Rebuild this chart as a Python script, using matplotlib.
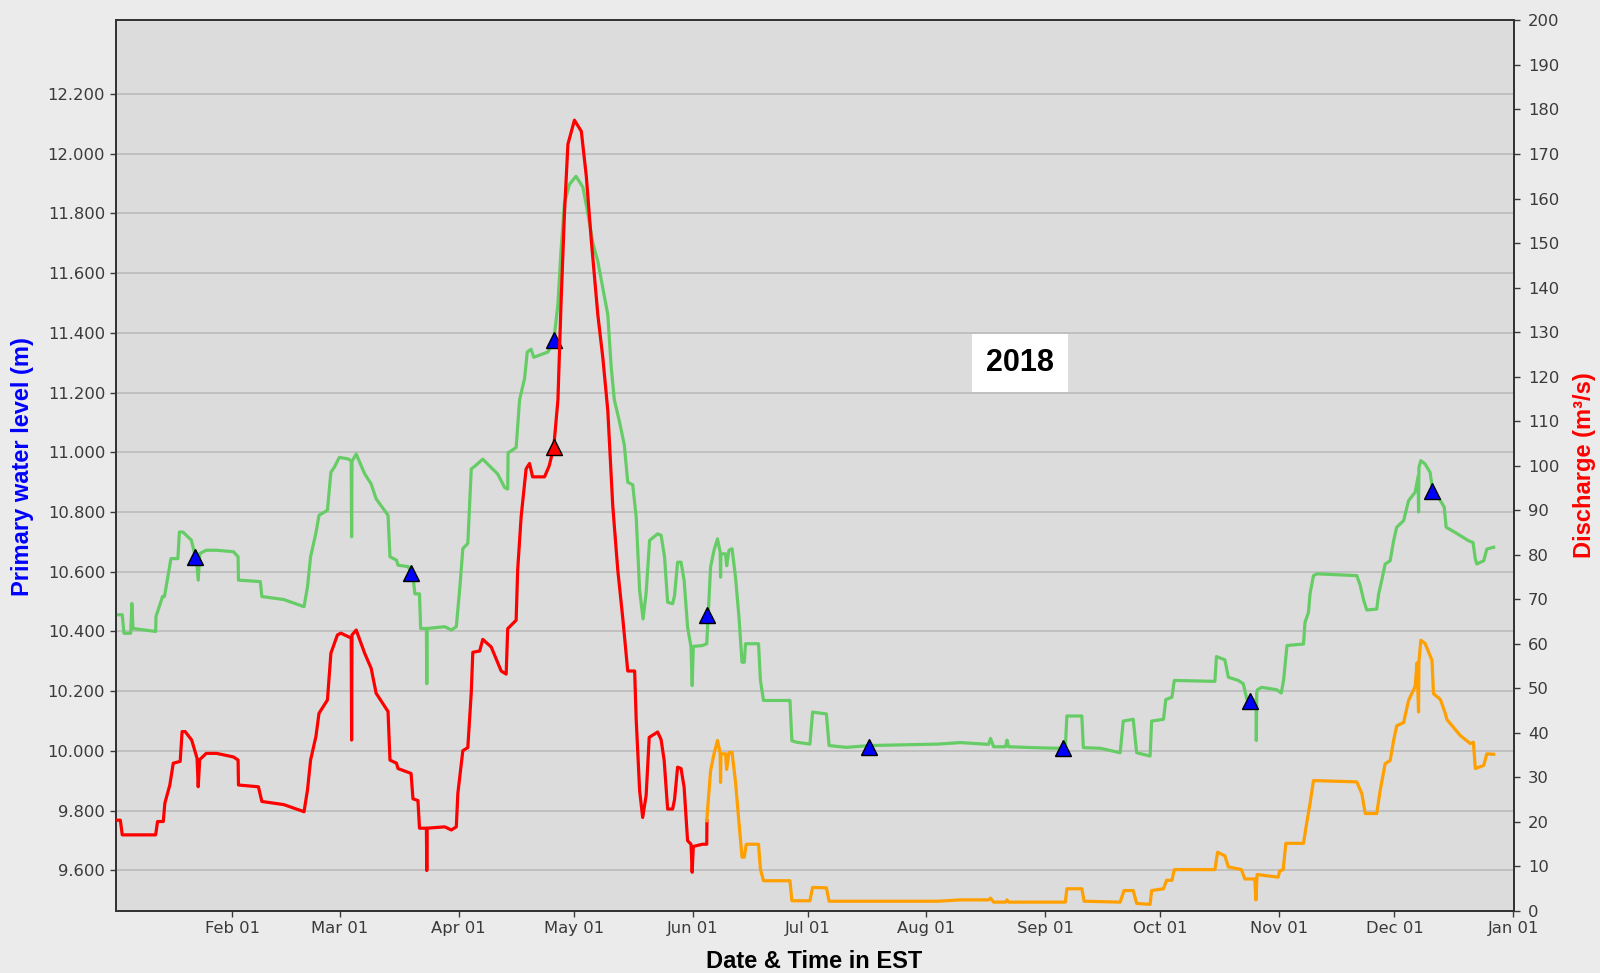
import numpy as np
import pandas as pd
import matplotlib
matplotlib.use('Agg')
import matplotlib.pyplot as plt
import matplotlib.dates as mdates

START = pd.Timestamp('2018-01-01')

# water level (m), days since 2018-01-01
level_days = [0.75, 2.3, 2.75, 3.6, 4.5, 4.8, 5.1, 11.0, 11.1, 12.8, 13.3, 15.0, 16.8, 17.2, 18.1,
              20.3, 21.2, 21.6, 22.1, 22.5, 24.2, 26.9, 31.3, 32.5, 32.6, 38.3, 38.7, 44.4, 49.7,
              50.6, 51.4, 52.8, 53.6, 55.8, 56.7, 57.6, 58.9, 61.1, 62.0, 62.1, 62.2, 63.3, 65.5,
              67.2, 68.5, 71.6, 72.1, 73.8, 74.2, 76.9, 78.2, 78.6, 79.8, 80.1, 81.6, 81.7, 81.8,
              86.4, 88.1, 89.4, 90.3, 91.1, 92.4, 93.3, 94.2, 96.3, 100.2, 102.0, 102.8, 102.9,
              105.0, 105.9, 107.2, 107.9, 108.9, 109.6, 113.3, 114.8, 115.9, 116.7, 117.6, 118.9,
              120.6, 122.4, 123.7, 125.0, 126.3, 127.6, 128.9, 129.8, 130.6, 131.9, 133.2, 134.1,
              135.4, 136.3, 137.2, 138.1, 138.9, 139.8, 141.9, 142.8, 143.7, 144.5, 145.8, 146.3,
              147.1, 148.0, 148.8, 149.7, 150.6, 150.9, 151.2, 153.6, 154.7, 155.1, 155.7, 156.6,
              157.5, 158.2, 158.3, 158.4, 159.6, 159.9, 160.5, 161.3, 162.2, 163.1, 163.9, 164.5,
              164.8, 168.2, 168.7, 169.5, 176.4, 176.9, 178.2, 181.6, 182.3, 185.9, 186.6, 191.1,
              197.1, 215.2, 220.8, 228.2, 228.7, 229.5, 232.6, 233.0, 233.4, 239.9, 246.0, 248.2,
              248.6, 252.5, 252.9, 257.3, 262.5, 263.3, 265.9, 266.8, 269.4, 270.3, 270.7, 273.8,
              274.4, 276.0, 276.6, 287.2, 287.6, 289.8, 290.7, 293.3, 294.6, 295.5, 296.4, 297.95,
              298.0, 298.1, 298.3, 299.4, 303.3, 304.5, 305.1, 306.0, 310.3, 310.7, 311.6, 312.0,
              312.9, 313.8, 324.2, 325.1, 326.0, 326.8, 329.4, 329.9, 330.7, 331.6, 332.9, 333.8,
              334.6, 336.4, 337.7, 339.4, 340.2, 340.3, 340.4, 340.9, 342.0, 343.3, 344.0, 346.0,
              347.0, 347.5, 349.0, 351.2, 353.3, 354.5, 355.1, 355.5, 357.3, 358.1, 359.9]
level_m = [10.456, 10.456, 10.394, 10.394, 10.394, 10.494, 10.41, 10.40, 10.45, 10.517, 10.517,
           10.644, 10.644, 10.733, 10.733, 10.706, 10.66, 10.65, 10.572, 10.661, 10.672, 10.672,
           10.667, 10.65, 10.572, 10.567, 10.517, 10.507, 10.483, 10.55, 10.65, 10.73, 10.789,
           10.806, 10.933, 10.95, 10.983, 10.978, 10.972, 10.717, 10.97, 10.994, 10.928, 10.894,
           10.844, 10.789, 10.65, 10.639, 10.622, 10.617, 10.572, 10.526, 10.526, 10.41, 10.41,
           10.225, 10.41, 10.416, 10.405, 10.416, 10.544, 10.677, 10.695, 10.944, 10.953, 10.977,
           10.927, 10.882, 10.877, 10.998, 11.016, 11.176, 11.247, 11.336, 11.345, 11.318, 11.336,
           11.372, 11.496, 11.675, 11.835, 11.897, 11.924, 11.888, 11.8, 11.701, 11.639, 11.55,
           11.461, 11.283, 11.176, 11.105, 11.025, 10.9, 10.891, 10.784, 10.537, 10.442, 10.53,
           10.705, 10.727, 10.722, 10.649, 10.498, 10.493, 10.52, 10.632, 10.632, 10.571, 10.415,
           10.348, 10.219, 10.35, 10.353, 10.359, 10.459, 10.616, 10.672, 10.71, 10.666, 10.582,
           10.66, 10.66, 10.62, 10.672, 10.677, 10.582, 10.448, 10.297, 10.297, 10.359, 10.359,
           10.236, 10.169, 10.169, 10.034, 10.029, 10.023, 10.13, 10.124, 10.018, 10.012, 10.018,
           10.023, 10.028, 10.022, 10.042, 10.014, 10.014, 10.036, 10.014, 10.011, 10.009, 10.011,
           10.117, 10.117, 10.011, 10.009, 9.994, 10.1, 10.106, 9.994, 9.986, 9.983, 10.1, 10.106,
           10.172, 10.18, 10.236, 10.233, 10.316, 10.305, 10.247, 10.236, 10.225, 10.175, 10.17,
           10.17, 10.035, 10.195, 10.205, 10.213, 10.205, 10.194, 10.236, 10.353, 10.358, 10.431,
           10.464, 10.526, 10.587, 10.593, 10.587, 10.554, 10.504, 10.472, 10.475, 10.526, 10.571,
           10.626, 10.637, 10.704, 10.749, 10.771, 10.838, 10.866, 10.92, 10.8, 10.95, 10.972,
           10.961, 10.933, 10.872, 10.838, 10.816, 10.749, 10.738, 10.721, 10.704, 10.698, 10.643,
           10.626, 10.637, 10.676, 10.682]

# discharge (m3/s), first part (red) and later part (orange)
red_days = [0.75, 1.8, 2.3, 11.0, 11.5, 13.0, 13.4, 14.7, 15.6, 17.4, 17.9, 18.7, 20.4, 21.8, 22.1,
            22.5, 24.2, 26.9, 31.3, 32.5, 32.6, 37.8, 38.7, 44.4, 49.7, 50.6, 51.4, 52.8, 53.6,
            55.8, 56.7, 58.4, 59.3, 62.0, 62.1, 62.2, 63.3, 65.5, 67.2, 68.5, 71.6, 72.1, 73.8,
            74.2, 77.6, 78.1, 79.4, 79.8, 81.6, 81.7, 81.8, 86.4, 88.1, 89.4, 89.8, 91.1, 92.4,
            93.3, 93.7, 95.5, 96.3, 98.5, 101.1, 102.4, 102.8, 105.0, 105.4, 106.3, 107.6, 108.5,
            109.3, 112.4, 113.6, 114.8, 115.9, 116.7, 117.6, 118.5, 120.2, 122.0, 123.3, 124.6,
            126.3, 127.6, 128.9, 130.2, 131.5, 132.8, 134.1, 135.9, 136.3, 137.2, 138.0, 138.9,
            139.7, 141.9, 142.8, 143.6, 144.5, 145.8, 146.3, 147.1, 148.0, 148.8, 149.7, 150.6,
            150.9, 151.2, 153.6, 154.7, 154.75]
red_q = [20.4, 20.4, 17.1, 17.1, 20.1, 20.1, 24.2, 28.3, 33.2, 33.6, 40.3, 40.3, 38.4, 34.3, 27.9,
         34.0, 35.4, 35.4, 34.6, 33.9, 28.3, 27.9, 24.6, 23.9, 22.3, 27.2, 33.9, 39.2, 44.4, 47.4,
         57.9, 62.0, 62.4, 61.3, 38.4, 62.0, 63.1, 57.9, 54.5, 48.9, 44.8, 33.9, 33.2, 32.0, 30.9,
         25.2, 24.8, 18.6, 18.6, 9.1, 18.6, 18.9, 18.2, 18.9, 26.4, 36.0, 36.7, 49.1, 58.1, 58.4,
         61.0, 59.3, 53.9, 53.2, 63.4, 65.3, 76.6, 88.5, 99.3, 100.5, 97.5, 97.5, 99.9, 104.1,
         114.8, 136.3, 156.7, 172.2, 177.6, 175.1, 165.0, 150.6, 133.9, 124.3, 112.4, 90.9, 76.6,
         65.8, 53.9, 53.9, 43.1, 27.0, 21.0, 26.0, 39.0, 40.2, 38.5, 33.8, 22.9, 22.9, 25.0, 32.3,
         32.0, 27.8, 15.8, 15.0, 8.7, 14.5, 15.0, 15.0, 20.3]
orange_days = [154.7, 155.1, 155.7, 156.6, 157.5, 158.2, 158.3, 158.4, 159.6, 159.9, 160.5, 161.3,
               162.2, 163.1, 163.9, 164.5, 165.0, 168.2, 168.7, 169.5, 176.4, 176.9, 181.6, 182.3,
               185.9, 186.6, 215.0, 220.8, 228.2, 228.7, 229.5, 232.6, 233.0, 233.4, 246.0, 248.2,
               248.6, 252.5, 253.1, 262.5, 263.5, 265.9, 266.8, 270.3, 270.7, 273.8, 274.6, 276.0,
               276.6, 287.2, 287.9, 289.8, 290.7, 294.1, 295.0, 297.6, 297.9, 298.2, 303.7, 304.1,
               305.0, 305.7, 310.3, 311.1, 312.0, 312.9, 324.2, 325.5, 326.4, 329.4, 330.3, 331.6,
               332.9, 333.8, 334.6, 336.4, 337.7, 339.4, 339.9, 340.3, 340.4, 340.9, 342.0, 343.8,
               344.2, 346.0, 347.3, 347.7, 351.2, 353.8, 354.6, 355.1, 357.3, 358.1, 359.9]
orange_q = [20.3, 24.8, 31.5, 35.3, 38.3, 35.5, 28.9, 35.3, 35.3, 31.8, 35.6, 35.6, 29.0, 19.9,
            12.1, 12.1, 15.0, 15.0, 9.4, 6.8, 6.8, 2.3, 2.3, 5.3, 5.2, 2.2, 2.2, 2.5, 2.5, 2.9, 2.0,
            2.0, 2.5, 2.0, 2.0, 2.0, 5.0, 5.0, 2.2, 2.0, 4.6, 4.6, 1.7, 1.5, 4.6, 5.0, 6.9, 6.9, 9.3,
            9.3, 13.2, 12.4, 9.9, 9.3, 7.2, 7.2, 2.5, 8.2, 7.6, 9.0, 9.3, 15.2, 15.2, 19.6, 24.1,
            29.3, 29.0, 26.4, 21.9, 21.9, 27.1, 33.1, 33.8, 38.3, 41.6, 42.3, 47.3, 50.4, 55.7, 44.7,
            56.0, 60.8, 60.1, 56.3, 48.8, 47.5, 44.3, 43.0, 39.4, 37.6, 37.9, 32.0, 32.7, 35.3, 35.2]

# field measurements
meas_days = [21.2, 77.6, 114.8, 154.7, 197.1, 247.6, 296.3, 343.8]
meas_level = [10.65, 10.597, 11.375, 10.454, 10.012, 10.009, 10.167, 10.872]
meas_q_days = [114.8]
meas_q = [104.1]


def to_dates(days):
    return START + pd.to_timedelta(np.asarray(days), unit='D')


tick_font = 'DejaVu Sans'
label_font = ['Liberation Sans Narrow', 'Liberation Sans', 'DejaVu Sans']

fig = plt.figure(figsize=(16, 9.73), dpi=100, facecolor='#ebebeb')
ax = fig.add_axes([0.0727, 0.0637, 0.8736, 0.9153])
ax.set_facecolor('#dcdcdc')
ax2 = ax.twinx()

ax.plot(to_dates(level_days), level_m, color='#66cc66', lw=2.3, zorder=3)
ax.plot(to_dates(meas_days), meas_level, linestyle='none', marker='^', markersize=11,
        markerfacecolor='#0000ff', markeredgecolor='black', markeredgewidth=1.0, zorder=5)

ax2.plot(to_dates(red_days), red_q, color='#ff0000', lw=2.3, zorder=3)
ax2.plot(to_dates(orange_days), orange_q, color='#ff9f00', lw=2.3, zorder=3)
ax2.plot(to_dates(meas_q_days), meas_q, linestyle='none', marker='^', markersize=11,
         markerfacecolor='#ff0000', markeredgecolor='black', markeredgewidth=1.0, zorder=5)

ax.set_xlim(START + pd.Timedelta(hours=18), START + pd.Timedelta(days=365, hours=5))
ax.set_ylim(9.464, 12.446)
ax2.set_ylim(0, 200)

ax.set_yticks(np.arange(9.6, 12.21, 0.2))
ax.yaxis.set_major_formatter(plt.FormatStrFormatter('%.3f'))
ax2.set_yticks(np.arange(0, 201, 10))
ax.xaxis.set_major_locator(mdates.MonthLocator())
ax.xaxis.set_major_formatter(mdates.DateFormatter('%b %d'))

ax.grid(axis='y', color='#bdbdbd', lw=1.3)
ax.set_axisbelow(True)

for a in (ax, ax2):
    for s in a.spines.values():
        s.set_color('#333333')
        s.set_linewidth(1.3)
ax.tick_params(axis='y', length=4, width=1, pad=4, labelsize=11.8, colors='#3a3a3a')
ax.tick_params(axis='x', length=4, width=1, pad=3, labelsize=11.8, colors='#3a3a3a')
ax2.tick_params(axis='y', length=4, width=1, pad=6, labelsize=11.8, colors='#3a3a3a')
for lab in ax.get_xticklabels() + ax.get_yticklabels() + ax2.get_yticklabels():
    lab.set_family(tick_font)

fig.text(0.014, 0.52, 'Primary water level (m)', rotation=90, ha='center', va='center',
         color='#0000ff', fontsize=17, fontweight='bold', family=label_font)
fig.text(0.9906, 0.522, 'Discharge (m³/s)', rotation=90, ha='center', va='center',
         color='#ff0000', fontsize=17, fontweight='bold', family=label_font)
fig.text(0.5091, 0.012, 'Date & Time in EST', ha='center', va='center',
         color='black', fontsize=17, fontweight='bold', family=['Liberation Sans', 'DejaVu Sans'])

ax2.text(0.6466, 0.6153, '2018', transform=ax.transAxes, ha='center', va='center',
         fontsize=22, fontweight='bold', family=['Liberation Sans', 'DejaVu Sans'],
         bbox=dict(boxstyle='square,pad=0.45', facecolor='white', edgecolor='none'), zorder=6)

fig.savefig('out.png', dpi=100, facecolor=fig.get_facecolor())
